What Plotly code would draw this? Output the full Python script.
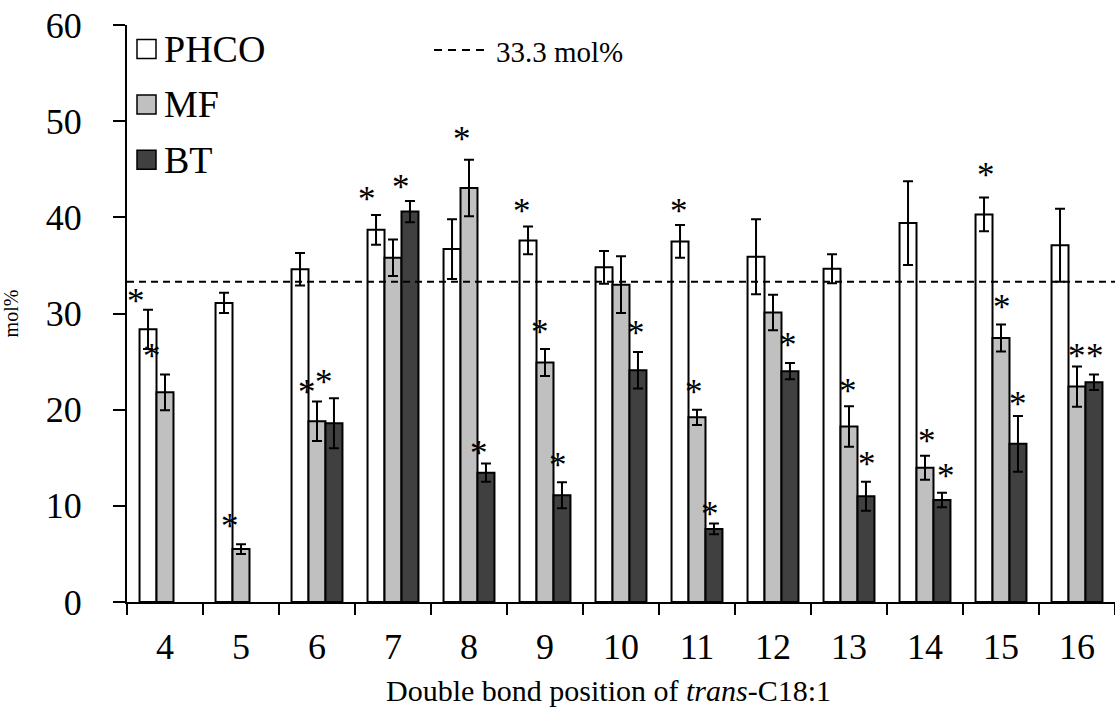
import plotly.graph_objects as go

# Double bond positions of trans-C18:1
positions = ["4", "5", "6", "7", "8", "9", "10", "11", "12", "13", "14", "15", "16"]

# Mean mol% per group and its error
phco = [28.35, 31.1, 34.6, 38.7, 36.7, 37.6, 34.8, 37.5, 35.9, 34.65, 39.4, 40.3, 37.1]
phco_err = [2.05, 1.05, 1.7, 1.55, 3.1, 1.45, 1.7, 1.7, 3.9, 1.5, 4.35, 1.75, 3.8]
mf = [21.8, 5.5, 18.8, 35.8, 43.05, 24.9, 33.0, 19.2, 30.1, 18.25, 13.95, 27.45, 22.4]
mf_err = [1.85, 0.5, 2.05, 1.9, 2.95, 1.4, 2.95, 0.8, 1.85, 2.1, 1.25, 1.4, 2.1]
bt = [None, None, 18.6, 40.6, 13.45, 11.1, 24.1, 7.6, 24.0, 11.0, 10.6, 16.45, 22.85]
bt_err = [None, None, 2.6, 1.1, 0.95, 1.35, 1.9, 0.55, 0.85, 1.5, 0.75, 2.9, 0.8]

reference_level = 33.3

# Positions marked as significantly different (*)
sig_phco = ["4", "7", "9", "11", "15"]
sig_mf = ["4", "5", "6", "8", "9", "11", "13", "14", "15", "16"]
sig_bt = ["6", "7", "8", "9", "10", "11", "12", "13", "14", "15", "16"]

FONT = "Liberation Serif, Times New Roman, serif"
W, H = 1115, 708
ML, MR, MT, MB = 127, 0, 25, 106
PW, PH = W - ML - MR, H - MT - MB
BARGAP = 0.33
cat_px = PW / len(positions)
bar_px = cat_px * (1 - BARGAP) / 3

series = [
    ("PHCO", phco, phco_err, "#ffffff", sig_phco, -bar_px),
    ("MF", mf, mf_err, "#c0c0c0", sig_mf, 0.0),
    ("BT", bt, bt_err, "#404040", sig_bt, bar_px),
]

# small hand placement of each asterisk (px right, px up from the error-bar top)
star_nudge = {
    ("PHCO", "4"): (-12, 14), ("MF", "4"): (-13, 24), ("MF", "5"): (-11, 24),
    ("MF", "6"): (-10, 15), ("BT", "6"): (-10, 22), ("PHCO", "7"): (-9, 21),
    ("BT", "7"): (-9, 19), ("MF", "8"): (-7, 26), ("BT", "8"): (-7, 16),
    ("PHCO", "9"): (-6, 21), ("MF", "9"): (-5, 23), ("BT", "9"): (-4, 23),
    ("BT", "10"): (-2, 24), ("PHCO", "11"): (-1, 20), ("MF", "11"): (-3, 23),
    ("BT", "11"): (-4, 15), ("BT", "12"): (-2, 24), ("MF", "13"): (-1, 21),
    ("BT", "13"): (1, 23), ("MF", "14"): (2, 20), ("BT", "14"): (4, 22),
    ("PHCO", "15"): (2, 28), ("MF", "15"): (1, 23), ("BT", "15"): (0, 17),
    ("MF", "16"): (0, 16), ("BT", "16"): (1, 24),
}
STAR_GLYPH_LIFT = 6  # asterisk glyph sits above the middle of its text box

fig = go.Figure()
annotations = []
for name, vals, errs, color, sig, offset in series:
    fig.add_trace(go.Bar(
        name=name, x=positions, y=vals,
        marker=dict(color=color, line=dict(color="black", width=2)),
        error_y=dict(type="data", array=errs, visible=True,
                     color="black", thickness=2, width=5),
        showlegend=False,
    ))
    for cat in sig:
        i = positions.index(cat)
        top = vals[i] + errs[i]
        dx, up = star_nudge.get((name, cat), (0, 20))
        annotations.append(dict(
            x=i, y=top, xref="x", yref="y", text="*", showarrow=False,
            xanchor="center", yanchor="middle",
            xshift=offset + dx, yshift=up - STAR_GLYPH_LIFT,
            font=dict(family=FONT, size=35, color="black"),
        ))


def px_x(px):
    return (px - ML) / PW


def px_y(py):
    return (H - MB - py) / PH


shapes = [
    # 33.3 mol% reference line across the plot
    dict(type="line", xref="paper", yref="y", x0=0, x1=1,
         y0=reference_level, y1=reference_level,
         line=dict(color="black", width=2, dash="7px,5px"), layer="above"),
]

# hand-built legend
legend_rows = [("PHCO", "#ffffff", 49), ("MF", "#c0c0c0", 104.5), ("BT", "#404040", 159.7)]
for label, color, cy in legend_rows:
    shapes.append(dict(type="rect", xref="paper", yref="paper",
                       x0=px_x(137), x1=px_x(156), y0=px_y(cy + 9.5), y1=px_y(cy - 9.5),
                       fillcolor=color, line=dict(color="black", width=1.5)))
    annotations.append(dict(x=px_x(162), y=px_y(cy), xref="paper", yref="paper",
                            text=label, showarrow=False, xanchor="left", yanchor="middle",
                            font=dict(family=FONT, size=38, color="black")))

shapes.append(dict(type="line", xref="paper", yref="paper",
                   x0=px_x(434), x1=px_x(484), y0=px_y(50), y1=px_y(50),
                   line=dict(color="black", width=2, dash="8px,6px")))
annotations.append(dict(x=px_x(494), y=px_y(52), xref="paper", yref="paper",
                        text=f"{reference_level} mol%", showarrow=False,
                        xanchor="left", yanchor="middle",
                        font=dict(family=FONT, size=29, color="black")))

# axis title, centred under the tick labels
annotations.append(dict(x=px_x(608), y=px_y(690), xref="paper", yref="paper",
                        text="Double bond position of <i>trans</i>-C18:1",
                        showarrow=False, xanchor="center", yanchor="middle",
                        font=dict(family=FONT, size=30, color="black")))

fig.update_layout(
    width=W, height=H,
    margin=dict(l=ML, r=MR, t=MT, b=MB, pad=0),
    paper_bgcolor="white", plot_bgcolor="white",
    barmode="group", bargap=BARGAP, bargroupgap=0,
    font=dict(family=FONT, color="black"),
    shapes=shapes, annotations=annotations,
    xaxis=dict(
        type="category", range=[-0.5, len(positions) - 0.5], automargin=False,
        tickson="boundaries", ticks="outside", ticklen=11,
        tickwidth=1.5, tickcolor="black", showline=True, linecolor="black",
        linewidth=2, showgrid=False, zeroline=False,
        tickfont=dict(family=FONT, size=36), ticklabelstandoff=12,
    ),
    yaxis=dict(
        range=[0, 60], tickvals=[0, 10, 20, 30, 40, 50, 60], ticks="outside",
        automargin=False,
        ticklen=12, tickwidth=2, tickcolor="black", showline=True,
        linecolor="black", linewidth=2, showgrid=False, zeroline=False,
        tickfont=dict(family=FONT, size=36), ticklabelstandoff=24,
        title=dict(text="mol%", font=dict(family=FONT, size=20), standoff=30),
    ),
)

fig.write_html("out.html")
